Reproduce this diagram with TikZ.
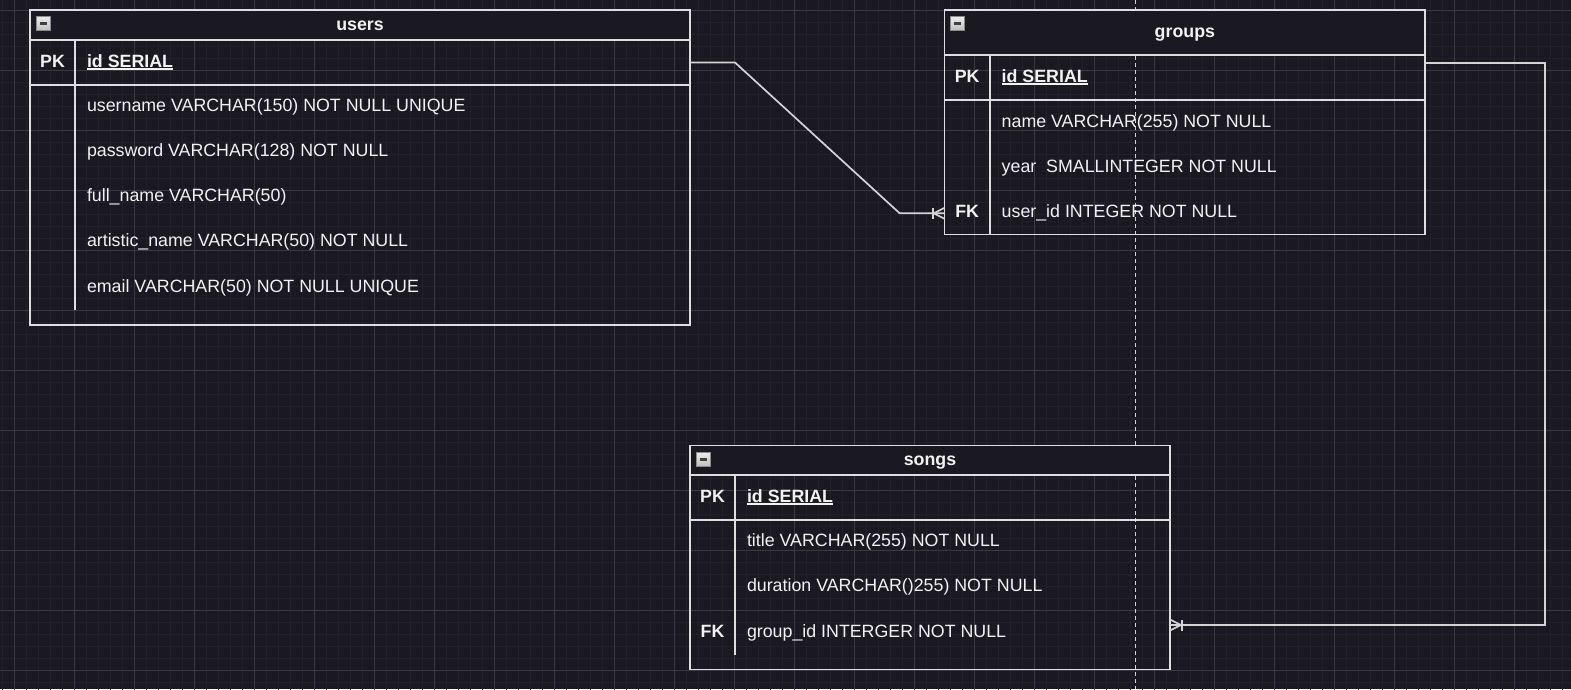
\documentclass[tikz,border=0pt]{standalone}
\usepackage{fontspec}
\setmainfont{Liberation Sans}
\usetikzlibrary{positioning}
\definecolor{canvas}{HTML}{1A1820}
\definecolor{gridminor}{HTML}{222028}
\definecolor{gridmajor}{HTML}{3B3941}
\definecolor{edge}{HTML}{DEDEDE}
\definecolor{ink}{HTML}{F2F2F2}
\definecolor{wire}{HTML}{D4D4D4}
\definecolor{knob}{HTML}{8C8C90}
\newsavebox{\idbox}
\newcommand{\idline}[1]{\sbox{\idbox}{#1}\rlap{\rule[-2.8pt]{\wd\idbox}{1.4pt}}\usebox{\idbox}}
\tikzset{
	every node/.style={inner sep=0pt, outer sep=0pt, text=ink, font=\fontsize{17.8}{21}\selectfont},
	node distance = 28.25pt,
	entity/.style={draw=edge, line width=1.3pt, anchor=north west},
	head/.style={entity, fill=canvas},
	title/.style={text height=11pt, text depth=0.2pt},
	key/.style={text height=13pt, text depth=4pt},
	field/.style={text height=13pt, text depth=4pt, anchor=west},
	rule/.style={draw=edge, line width=1.3pt},
	link/.style={draw=wire, line width=1.7pt},
	guide/.style={draw=wire, line width=1pt, dash pattern=on 4pt off 3pt},
	toggle/.style={draw=knob, top color=gray!15, bottom color=gray!50, minimum size=14pt, line width=.8pt,
		path picture={\draw[line width=2.8pt, draw=black!75] ([xshift=3.5pt]path picture bounding box.west) -- ([xshift=-3.5pt]path picture bounding box.east);}}
}

\begin{document}
\begin{tikzpicture}[x=1pt, y=-1pt]
	% Canvas
	\fill[canvas] (0,0) rectangle (1571,689);
	\useasboundingbox (0,0) rectangle (1571,689);
	\clip (0,0) rectangle (1571,689);
	\begin{scope}[shift={(2,10)}]
		\draw[gridminor, line width=.8pt, step=12pt] (-12,-12) grid (1584,696);
	\end{scope}
	\begin{scope}[shift={(14,10)}]
		\draw[gridmajor, line width=.9pt, step=60pt] (-60,-60) grid (1620,720);
	\end{scope}
	\coordinate (guide-top) at (1135.7,0);
	\coordinate (guide-bot) at (1135.7,689);
	\draw[guide] (guide-top) -- (guide-bot);

	% users
	\node (users) [entity, minimum width=660pt, minimum height=315pt] at (30,10) {};
	\node (users-head) [head, minimum width=660pt, minimum height=30pt] at (users.north west) {};
	\node (users-title) [title] at (users-head) {\textbf{users}};
	\node (users-toggle) [toggle, below right=6.5pt and 6pt of users-head.north west] {};
	\coordinate (users-sep) at ([yshift=-45pt]users-head.south west);
	\draw[rule] (users-sep) -- (users-sep -| users.east);
	\draw[rule] ([xshift=45pt]users-head.south west) -- ([shift={(45pt,15pt)}]users.south west);
	\node (users-pk) [key] at ([shift={(22.5pt,22.5pt)}]users-sep) {\textbf{PK}};
	\node (users-id) [field] at ([shift={(57pt,22.5pt)}]users-sep) {\idline{\textbf{id SERIAL}}};
	\node (users-f1) [field] at ([shift={(57pt,-21.5pt)}]users-sep) {username VARCHAR(150) NOT NULL UNIQUE};
	\node (users-f2) [field, below=of users-f1.south west, anchor=north west] {password VARCHAR(128) NOT NULL};
	\node (users-f3) [field, below=of users-f2.south west, anchor=north west] {full\_name VARCHAR(50)};
	\node (users-f4) [field, below=of users-f3.south west, anchor=north west] {artistic\_name VARCHAR(50) NOT NULL};
	\node (users-f5) [field, below=of users-f4.south west, anchor=north west] {email VARCHAR(50) NOT NULL UNIQUE};

	% groups
	\node (groups) [entity, minimum width=480.3pt, minimum height=224.3pt] at (944.7,10) {};
	\node (groups-head) [head, minimum width=480.3pt, minimum height=45pt] at (groups.north west) {};
	\node (groups-title) [title] at (groups-head) {\textbf{groups}};
	\node (groups-toggle) [toggle, below right=6.5pt and 6pt of groups-head.north west] {};
	\coordinate (groups-sep) at ([yshift=-45pt]groups-head.south west);
	\draw[rule] (groups-sep) -- (groups-sep -| groups.east);
	\draw[rule] ([xshift=45.3pt]groups-head.south west) -- ([xshift=45.3pt]groups.south west);
	\node (groups-pk) [key] at ([shift={(22.5pt,22.5pt)}]groups-sep) {\textbf{PK}};
	\node (groups-id) [field] at ([shift={(57pt,22.5pt)}]groups-sep) {\idline{\textbf{id SERIAL}}};
	\node (groups-f1) [field] at ([shift={(57pt,-22.8pt)}]groups-sep) {name VARCHAR(255) NOT NULL};
	\node (groups-f2) [field, below=of groups-f1.south west, anchor=north west] {year~ SMALLINTEGER NOT NULL};
	\node (groups-f3) [field, below=of groups-f2.south west, anchor=north west] {user\_id INTEGER NOT NULL};
	\node (groups-fk) [key] at (groups-pk |- groups-f3) {\textbf{FK}};

	% songs
	\node (songs) [entity, minimum width=480pt, minimum height=223.6pt] at (690,445.7) {};
	\node (songs-head) [head, minimum width=480pt, minimum height=29.3pt] at (songs.north west) {};
	\node (songs-title) [title] at (songs-head) {\textbf{songs}};
	\node (songs-toggle) [toggle, below right=6.5pt and 6pt of songs-head.north west] {};
	\coordinate (songs-sep) at ([yshift=-45pt]songs-head.south west);
	\draw[rule] (songs-sep) -- (songs-sep -| songs.east);
	\draw[rule] ([xshift=45pt]songs-head.south west) -- ([shift={(45pt,14pt)}]songs.south west);
	\node (songs-pk) [key] at ([shift={(22.5pt,22.5pt)}]songs-sep) {\textbf{PK}};
	\node (songs-id) [field] at ([shift={(57pt,22.5pt)}]songs-sep) {\idline{\textbf{id SERIAL}}};
	\node (songs-f1) [field] at ([shift={(57pt,-22pt)}]songs-sep) {title VARCHAR(255) NOT NULL};
	\node (songs-f2) [field, below=of songs-f1.south west, anchor=north west] {duration VARCHAR()255) NOT NULL};
	\node (songs-f3) [field, below=of songs-f2.south west, anchor=north west] {group\_id INTERGER NOT NULL};
	\node (songs-fk) [key] at (songs-pk |- songs-f3) {\textbf{FK}};

	% users -> groups
	\coordinate (groups-in) at (groups.west |- groups-f3);
	\draw[link] (users.east |- users-id) -- ++(45,0) -- ([xshift=-45pt]groups-in) -- (groups-in);
	\draw[link] ([yshift=5.5pt]groups-in) -- ([xshift=-11pt]groups-in) -- ([yshift=-5.5pt]groups-in);
	\draw[link] ([shift={(-12pt,5.5pt)}]groups-in) -- ([shift={(-12pt,-5.5pt)}]groups-in);

	% groups -> songs
	\coordinate (groups-out) at ([yshift=-53pt]groups.north east);
	\coordinate (songs-in) at ([yshift=44.3pt]songs.south east);
	\draw[link] (groups-out) -- ++(120,0) |- (songs-in);
	\draw[link] ([yshift=5.5pt]songs-in) -- ([xshift=11pt]songs-in) -- ([yshift=-5.5pt]songs-in);
	\draw[link] ([shift={(12pt,5.5pt)}]songs-in) -- ([shift={(12pt,-5.5pt)}]songs-in);
\end{tikzpicture}
\end{document}
